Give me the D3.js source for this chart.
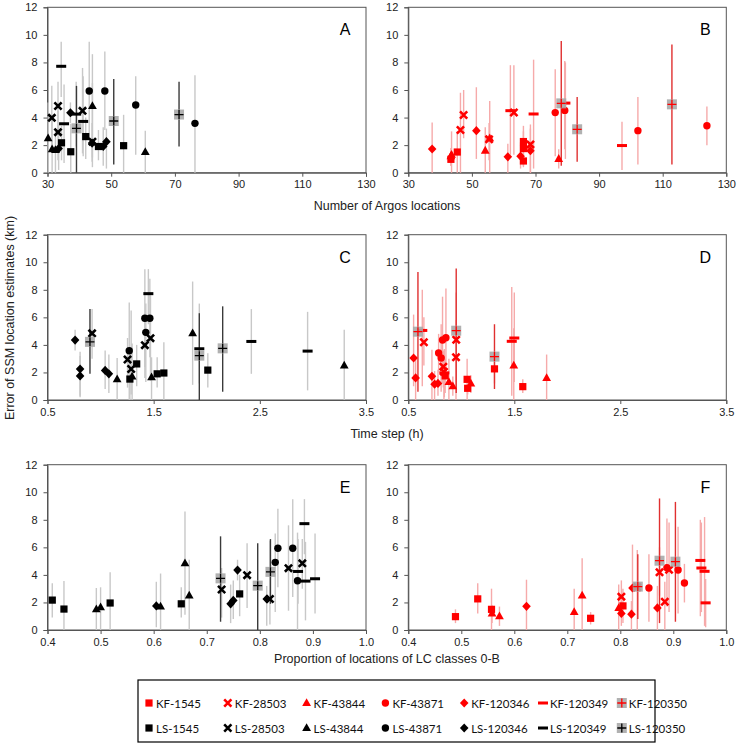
<!DOCTYPE html>
<html>
<head>
<meta charset="utf-8">
<script src="https://cdn.jsdelivr.net/npm/d3@7"></script>
<style>
  body { margin: 0; background: #fff; }
  svg { display: block; font-family: "Liberation Sans", Arial, sans-serif; }
</style>
</head>
<body>
<div id="chart"></div>
<script>
// each row: [error km, lower, upper, n Argos locations, time step h, proportion LC 0-B]
const LS_1545 = [[2.17, 0.9, 3.4, 34.4, 2.01, 0.409], [1.52, 0.0, 3.55, 37.3, 1.276, 0.431], [1.96, 0.0, 4.2, 53.9, 1.596, 0.518], [1.90, 0.9, 3.1, 46.0, 1.533, 0.652], [2.62, 1.0, 4.0, 42.0, 1.34, 0.762]];
const LS_28503 = [[2.94, 0.9, 4.5, 33.3, 1.254, 0.728], [3.98, 1.6, 6.3, 31.35, 1.417, 0.776], [2.25, 0.4, 6.5, 44.1, 1.288, 0.819], [4.49, 1.4, 7.6, 41.0, 1.47, 0.854], [4.84, 3.0, 6.6, 33.3, 0.92, 0.88]];
const LS_43844 = [[1.50, 0.0, 3.05, 60.7, 1.156, 0.492], [1.65, 0.0, 3.1, 32.5, 1.48, 0.50], [1.70, 0.0, 4.1, 31.45, 1.297, 0.613], [4.84, 1.1, 8.6, 44.1, 1.867, 0.659], [2.50, 0.0, 5.1, 30.2, 3.295, 0.667]];
const LS_43871 = [[4.91, 1.3, 7.0, 57.7, 1.426, 0.829], [5.93, 2.4, 9.5, 43.1, 1.417, 0.862], [5.93, 3.1, 8.8, 48.0, 1.464, 0.834], [3.58, 0.0, 7.07, 76.3, 1.27, 0.871]];
const LS_120346 = [[1.75, 0.2, 3.5, 33.5, 0.807, 0.605], [1.90, 0.5, 3.3, 47.5, 1.078, 0.745], [2.15, 0.8, 3.6, 44.0, 1.043, 0.750], [4.35, 3.6, 5.1, 37.2, 0.76, 0.758], [2.25, 0.3, 3.2, 48.5, 0.807, 0.813]];
const LS_120349 = [[7.72, 5.5, 9.5, 34.3, 1.45, 0.884], [3.55, 0.7, 6.4, 35.2, 2.95, 0.886], [4.25, 1.9, 6.6, 39.0, 2.42, 0.872], [3.72, 1.2, 7.0, 41.2, 1.93, 0.904]];
const LS_120350 = [[3.22, 0.0, 6.3, 39.1, 1.93, 0.796], [3.75, 0.6, 6.8, 50.8, 2.15, 0.726], [4.22, 1.9, 6.6, 71.3, 0.90, 0.820]];

const KF_1545 = [[0.97, 0.5, 1.5, 43.4, 1.58, 0.489], [2.26, 1.2, 3.4, 66.2, 1.313, 0.531], [1.50, 0.0, 3.0, 45.4, 1.055, 0.557], [0.85, 0.4, 1.3, 66.2, 1.06, 0.744], [1.75, 0.5, 3.0, 66.2, 0.848, 0.805]];
const KF_28503 = [[3.10, 0.0, 5.8, 46.4, 0.95, 0.832], [4.19, 2.5, 6.0, 47.4, 0.647, 0.874], [2.42, 0.9, 3.6, 55.4, 0.83, 0.802], [4.37, 1.3, 7.8, 63.2, 0.952, 0.892], [2.05, 0.0, 3.5, 68.4, 0.836, 0.884]];
const KF_43844 = [[1.00, 0.3, 1.7, 77.3, 0.92, 0.572], [1.20, 0.5, 1.8, 43.4, 1.09, 0.558], [1.30, 0.0, 3.0, 43.6, 0.883, 0.713], [2.50, 0.0, 5.2, 55.6, 1.495, 0.728], [1.60, 0.0, 3.3, 54.2, 1.805, 0.797]];
const KF_43871 = [[4.36, 1.2, 7.5, 76.2, 0.823, 0.909], [4.52, 1.7, 8.1, 79.2, 0.855, 0.888], [3.05, 0.6, 5.5, 102.2, 0.81, 0.854], [3.41, 2.0, 4.8, 123.9, 0.786, 0.921]];
const KF_120346 = [[3.05, 1.0, 6.2, 51.4, 0.55, 0.823], [1.60, 0.0, 3.2, 68.4, 0.569, 0.870], [1.72, 0.0, 3.65, 37.5, 0.723, 0.623], [1.15, 0.0, 2.1, 61.3, 0.748, 0.821], [1.20, 0.3, 2.2, 65.3, 0.78, 0.802]];
const KF_120349 = [[5.05, 1.0, 8.0, 79.4, 0.632, 0.951], [4.50, 1.3, 7.8, 62.1, 1.50, 0.953], [4.26, 0.3, 8.2, 69.4, 1.476, 0.959], [1.97, 0.2, 3.7, 97.2, 0.84, 0.961]];
const KF_120350 = [[5.03, 0.5, 9.55, 78.1, 0.952, 0.874], [3.15, 0.8, 5.5, 83.1, 1.313, 0.833], [4.96, 0.6, 9.3, 112.9, 0.591, 0.904]];

const animals = ["1545", "28503", "43844", "43871", "120346", "120349", "120350"];
const lsData = [LS_1545, LS_28503, LS_43844, LS_43871, LS_120346, LS_120349, LS_120350];
const kfData = [KF_1545, KF_28503, KF_43844, KF_43871, KF_120346, KF_120349, KF_120350];

const argosTicks = [30, 50, 70, 90, 110, 130];
const stepTicks = [0.5, 1.5, 2.5, 3.5];
const propTicks = [0.4, 0.5, 0.6, 0.7, 0.8, 0.9, 1.0];
const yTicks = [0, 2, 4, 6, 8, 10, 12];

const W = 738, H = 747;
const shapes = ["square", "cross", "triangle", "circle", "diamond", "dash", "plus"];

const svg = d3.select("#chart").append("svg")
    .attr("width", W)
    .attr("height", H);

const cols = [[47.5, 366], [408.3, 726.3]];
const rows = [[7.3, 172.7], [234.7, 400], [464.7, 630]];

const panels = [
    { label: "A", col: 0, row: 0, k: 3, ticks: argosTicks, fmt: d3.format("d"), grp: "LS" },
    { label: "B", col: 1, row: 0, k: 3, ticks: argosTicks, fmt: d3.format("d"), grp: "KF" },
    { label: "C", col: 0, row: 1, k: 4, ticks: stepTicks, fmt: d3.format(".1f"), grp: "LS" },
    { label: "D", col: 1, row: 1, k: 4, ticks: stepTicks, fmt: d3.format(".1f"), grp: "KF" },
    { label: "E", col: 0, row: 2, k: 5, ticks: propTicks, fmt: d3.format(".1f"), grp: "LS" },
    { label: "F", col: 1, row: 2, k: 5, ticks: propTicks, fmt: d3.format(".1f"), grp: "KF" }
];

function drawMarker(g, shape, cx, cy, grp) {
    const c = grp === "KF" ? "#ff0000" : "#000";
    if (shape === "square") {
        g.append("rect").attr("x", cx - 3.6).attr("y", cy - 3.6).attr("width", 7.2).attr("height", 7.2).attr("fill", c);
    } else if (shape === "cross") {
        g.append("path").attr("d", `M${cx - 3.6},${cy - 3.6}L${cx + 3.6},${cy + 3.6}M${cx - 3.6},${cy + 3.6}L${cx + 3.6},${cy - 3.6}`)
            .attr("stroke", c).attr("stroke-width", 2.6);
    } else if (shape === "triangle") {
        g.append("path").attr("d", `M${cx},${cy - 4.8}L${cx + 4.4},${cy + 3}L${cx - 4.4},${cy + 3}Z`).attr("fill", c);
    } else if (shape === "circle") {
        g.append("circle").attr("cx", cx).attr("cy", cy).attr("r", 3.7).attr("fill", c);
    } else if (shape === "diamond") {
        g.append("path").attr("d", `M${cx},${cy - 4.6}L${cx + 4.3},${cy}L${cx},${cy + 4.6}L${cx - 4.3},${cy}Z`).attr("fill", c);
    } else if (shape === "dash") {
        g.append("rect").attr("x", cx - 5).attr("y", cy - 1.5).attr("width", 10).attr("height", 3).attr("fill", c);
    } else {
        g.append("rect").attr("x", cx - 5).attr("y", cy - 5).attr("width", 10).attr("height", 10)
            .attr("fill", "#a8a8a8").attr("opacity", 0.9);
        g.append("path").attr("d", `M${cx - 4.5},${cy}L${cx + 4.5},${cy}M${cx},${cy - 4.5}L${cx},${cy + 4.5}`)
            .attr("stroke", c).attr("stroke-width", 1.3);
    }
}

panels.forEach((p) => {
    const [x0, x1] = cols[p.col];
    const [y0, y1] = rows[p.row];
    const x = d3.scaleLinear().domain([p.ticks[0], p.ticks[p.ticks.length - 1]]).range([x0, x1]);
    const y = d3.scaleLinear().domain([0, 12]).range([y1, y0]);
    const g = svg.append("g");

    g.append("rect")
        .attr("x", x0).attr("y", y0)
        .attr("width", x1 - x0).attr("height", y1 - y0)
        .attr("fill", "none").attr("stroke", "#555").attr("stroke-width", 1);

    const xa = g.append("g")
        .attr("transform", `translate(0,${y1})`)
        .call(d3.axisBottom(x).tickValues(p.ticks).tickFormat(p.fmt).tickSize(4).tickPadding(4));
    const ya = g.append("g")
        .attr("transform", `translate(${x0},0)`)
        .call(d3.axisLeft(y).tickValues(yTicks).tickSize(4).tickPadding(6));
    [xa, ya].forEach((a) => {
        a.select(".domain").attr("stroke", "#555");
        a.selectAll(".tick line").attr("stroke", "#555");
        a.selectAll("text").style("font-size", "11px").attr("fill", "#222")
            .style("font-family", "'Liberation Sans', Arial, sans-serif");
    });

    const data = p.grp === "LS" ? lsData : kfData;
    const bars = g.append("g");
    const marks = g.append("g");
    data.forEach((series, si) => {
        const dark = si === 6;
        let col;
        if (p.grp === "LS") col = dark ? "#3a3a3a" : "#c8c8c8";
        else col = dark ? "#e03030" : "#f6aaaa";
        series.forEach((d) => {
            bars.append("line")
                .attr("x1", x(d[p.k])).attr("x2", x(d[p.k]))
                .attr("y1", y(d[1])).attr("y2", y(d[2]))
                .attr("stroke", col).attr("stroke-width", 1.4);
        });
    });
    data.forEach((series, si) => {
        series.forEach((d) => drawMarker(marks, shapes[si], x(d[p.k]), y(d[0]), p.grp));
    });

    g.append("text")
        .attr("x", x1 - 21).attr("y", y0 + 28)
        .attr("text-anchor", "middle")
        .style("font-size", "16px")
        .text(p.label);
});

const axisTitles = [
    ["Number of Argos locations", 210],
    ["Time step (h)", 438],
    ["Proportion of locations of LC classes 0-B", 663]
];
axisTitles.forEach(([t, ty]) => {
    svg.append("text")
        .attr("x", 387).attr("y", ty)
        .attr("text-anchor", "middle")
        .style("font-size", "12.5px")
        .attr("fill", "#222")
        .text(t);
});

svg.append("text")
    .attr("transform", "translate(14,318) rotate(-90)")
    .attr("text-anchor", "middle")
    .style("font-size", "12.5px")
    .attr("fill", "#222")
    .text("Error of SSM location estimates (km)");

// legend
const legend = svg.append("g");
legend.append("rect")
    .attr("x", 138).attr("y", 680)
    .attr("width", 517).attr("height", 62)
    .attr("fill", "none").attr("stroke", "#000").attr("stroke-width", 1.2);

["KF", "LS"].forEach((grp, r) => {
    animals.forEach((a, i) => {
        const lx = 149 + i * 78.8;
        const ly = 703 + r * 25;
        drawMarker(legend, shapes[i], lx, ly, grp);
        legend.append("text")
            .attr("x", lx + 7).attr("y", ly + 4.5)
            .style("font-family", "Lato, 'Open Sans', sans-serif")
            .style("font-size", "11.5px")
            .attr("fill", "#111")
            .text(`${grp}-${a}`);
    });
});
</script>
</body>
</html>
